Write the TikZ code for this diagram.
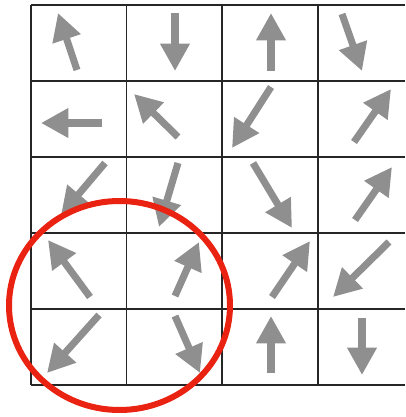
\documentclass[tikz,border=0pt]{standalone}
\usetikzlibrary{arrows.meta}
\definecolor{arrowgray}{HTML}{8F8F8F}
\definecolor{ringred}{HTML}{EA2211}
\tikzset{
  gridline/.style={draw=black!85, line width=1.1pt},
  vec/.style={draw=arrowgray, line width=5.3pt, line cap=butt,
    -{Triangle[length=20.5pt, width=21pt, fill=arrowgray]}},
  ring/.style={draw=ringred, line width=4.5pt}
}
\begin{document}
\begin{tikzpicture}[x=0.75pt, y=-0.75pt]
\useasboundingbox (0,0) rectangle (405,417);
% grid
\draw[gridline] (31,5) -- (405,5);
\foreach \y in {81,157,233,309} \draw[gridline] (31,\y) -- (405,\y);
\draw[gridline] (31,385) -- (405,385);
\foreach \x in {31,126.5,222,318} \draw[gridline] (\x,5) -- (\x,385);
% row 1
\draw[vec] (77,70) -- (58,13);
\draw[vec] (175,13) -- (175,71);
\draw[vec] (271,71) -- (271,13);
\draw[vec] (342,14) -- (362,71);
% row 2
\draw[vec] (102,123) -- (41,123);
\draw[vec] (178,137) -- (134,94);
\draw[vec] (271,87) -- (232,148);
\draw[vec] (354,142) -- (391,89);
% row 3
\draw[vec] (105,163) -- (61,215);
\draw[vec] (178,163) -- (159,227);
\draw[vec] (253,163) -- (292,228);
\draw[vec] (355,220) -- (392,167);
% row 4
\draw[vec] (90,297) -- (48,240);
\draw[vec] (175,296) -- (199,242);
\draw[vec] (272,297) -- (310,241);
\draw[vec] (389,242) -- (333,297);
% row 5
\draw[vec] (99,315) -- (47,373);
\draw[vec] (175,316) -- (200,373);
\draw[vec] (271,373) -- (271,316);
\draw[vec] (362,318) -- (362,375);
% red ring
\draw[ring] (119.5,305.5) ellipse [x radius=110.5, y radius=104.5];
\end{tikzpicture}
\end{document}
